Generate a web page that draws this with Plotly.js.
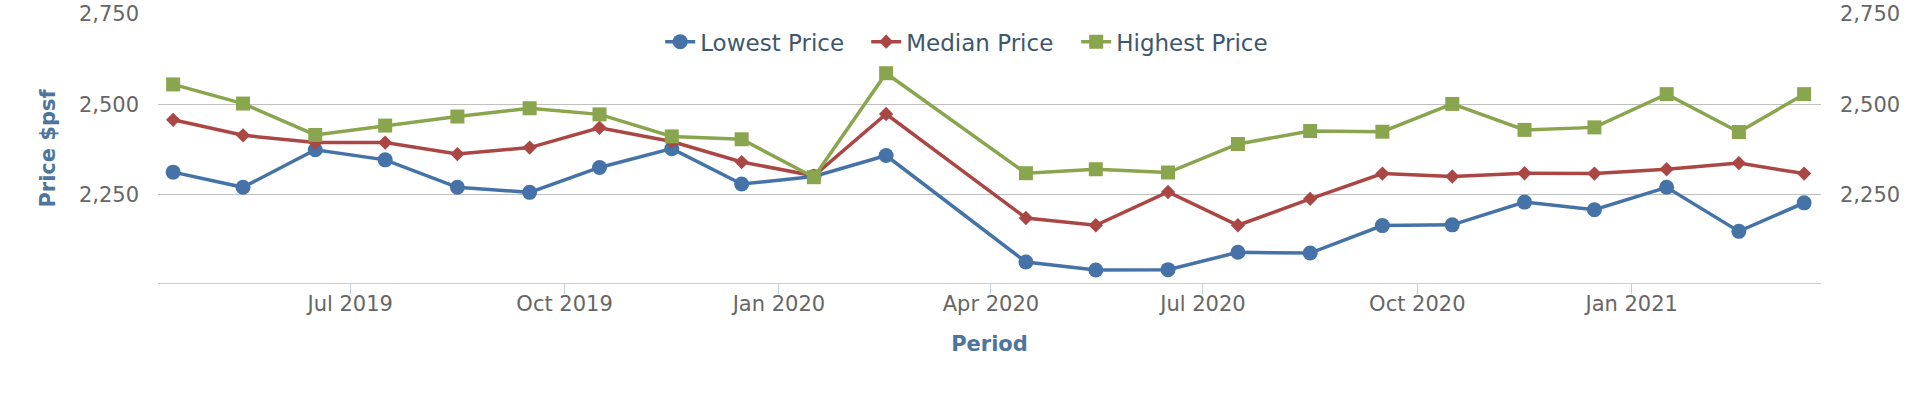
<!DOCTYPE html>
<html>
<head>
<meta charset="utf-8">
<script src="https://cdn.plot.ly/plotly-3.0.1.min.js"></script>
<style>
  html, body { margin: 0; padding: 0; background: #ffffff; }
  #chart { width: 1920px; height: 393px; }
</style>
</head>
<body>
<div id="chart"></div>
<script>
// Period (mid-month points; no data for Mar 2020)
const periods = [
  "2019-04-16", "2019-05-16", "2019-06-16", "2019-07-16", "2019-08-16", "2019-09-16",
  "2019-10-16", "2019-11-16", "2019-12-16", "2020-01-16", "2020-02-16",
  "2020-04-16", "2020-05-16", "2020-06-16", "2020-07-16", "2020-08-16", "2020-09-16",
  "2020-10-16", "2020-11-16", "2020-12-16", "2021-01-16", "2021-02-16", "2021-03-16"
];
const lowestPrice = [
  2312, 2270, 2374, 2346, 2270, 2256, 2325, 2377, 2279, 2300, 2358,
  2063, 2041, 2042, 2090, 2088, 2164, 2166, 2229, 2208, 2270, 2148, 2227
];
const medianPrice = [
  2457, 2414, 2394, 2394, 2362, 2380, 2435, 2397, 2340, 2302, 2473,
  2185, 2165, 2257, 2165, 2238, 2308, 2300, 2309, 2308, 2320, 2337, 2308
];
const highestPrice = [
  2555, 2502, 2415, 2441, 2466, 2489, 2472, 2411, 2403, 2298, 2586,
  2309, 2320, 2311, 2390, 2426, 2424, 2501, 2429, 2436, 2528, 2423, 2528
];
const seriesNames = ["Lowest Price", "Median Price", "Highest Price"];
const seriesColors = ["#4572A7", "#AA4643", "#89A54E"];
const seriesSymbols = ["circle", "diamond", "square"];
const markerSizes = [15, 11, 14];
const legendWidths = [161, 165, 166];
const yTickVals = [2250, 2500, 2750];
const xRange = ["2019-04-09 12:00", "2021-03-23 06:00"];
const yRange = [2005, 2750];

const FONT = "DejaVu Sans, Verdana, sans-serif";
const seriesValues = [lowestPrice, medianPrice, highestPrice];

const traces = seriesValues.map((vals, i) => ({
  type: "scatter",
  mode: "lines+markers",
  name: seriesNames[i],
  x: periods,
  y: vals,
  legendwidth: legendWidths[i],
  line: { color: seriesColors[i], width: 3.5 },
  marker: { color: seriesColors[i], symbol: seriesSymbols[i], size: markerSizes[i], line: { width: 0 } },
  hoverinfo: "x+y+name"
}));
// invisible trace to drive the right-hand axis
traces.push({
  type: "scatter", mode: "lines", x: [periods[0]], y: [yRange[0]], yaxis: "y2",
  showlegend: false, hoverinfo: "skip", line: { color: "rgba(0,0,0,0)" }
});

const layout = {
  width: 1920,
  height: 393,
  margin: { l: 158, r: 99, t: 14, b: 110, pad: 0 },
  paper_bgcolor: "#ffffff",
  plot_bgcolor: "#ffffff",
  font: { family: FONT, color: "#666666", size: 20 },
  showlegend: true,
  legend: {
    orientation: "h",
    x: 0.4905, xanchor: "center",
    y: 0.897, yanchor: "middle",
    font: { family: FONT, size: 23, color: "#3E576F" },
    bgcolor: "rgba(0,0,0,0)",
    traceorder: "normal"
  },
  xaxis: {
    type: "date",
    range: xRange,
    tick0: "2019-01-01",
    dtick: "M3",
    tickformat: "%b %Y",
    ticks: "outside",
    ticklen: 10,
    tickwidth: 1,
    tickcolor: "#C0D0E0",
    ticklabelstandoff: -8,
    showline: true,
    linecolor: "#C0D0E0",
    linewidth: 1,
    showgrid: false,
    zeroline: false,
    tickfont: { family: FONT, size: 21, color: "#666666" },
    title: { text: "Period", font: { family: FONT, size: 21, color: "#4D759E", weight: "bold" }, standoff: 21 },
    automargin: false,
    fixedrange: true
  },
  yaxis: {
    range: yRange,
    tickvals: yTickVals,
    tickformat: ",d",
    ticks: "",
    ticklabelstandoff: 18,
    showgrid: true,
    gridcolor: "#C0C0C0",
    gridwidth: 1,
    showline: false,
    zeroline: false,
    tickfont: { family: FONT, size: 21, color: "#666666" },
    title: { text: "Price $psf", font: { family: FONT, size: 21, color: "#4D759E", weight: "bold" }, standoff: 17 },
    automargin: false,
    fixedrange: true
  },
  yaxis2: {
    overlaying: "y",
    side: "right",
    range: yRange,
    tickvals: yTickVals,
    tickformat: ",d",
    ticks: "",
    ticklabelstandoff: 18,
    showgrid: false,
    showline: false,
    zeroline: false,
    tickfont: { family: FONT, size: 21, color: "#666666" },
    automargin: false,
    fixedrange: true
  },
  hovermode: "closest"
};

Plotly.newPlot("chart", traces, layout, { displayModeBar: false, staticPlot: false, responsive: false });
</script>
</body>
</html>
